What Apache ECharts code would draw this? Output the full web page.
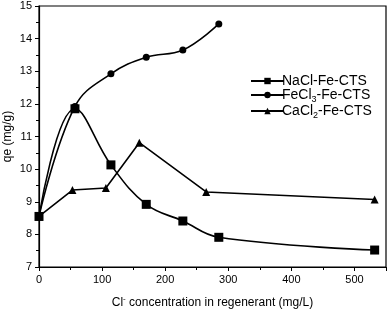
<!DOCTYPE html>
<html><head><meta charset="utf-8">
<script src="https://cdn.jsdelivr.net/npm/echarts@6/dist/echarts.min.js"></script>
<style>html,body{margin:0;padding:0;background:#fff}#c{width:392px;height:310px}</style>
</head><body><div id="c"></div>
<script>
const naclX = [0, 57, 114, 170, 228, 285, 532];
const naclY = [8.55, 11.85, 10.13, 8.92, 8.41, 7.91, 7.52];
const fecl3X = [0, 57, 114, 170, 228, 285];
const fecl3Y = [8.55, 11.92, 12.92, 13.43, 13.65, 14.45];
const cacl2X = [0, 53, 106, 159, 265, 532];
const cacl2Y = [8.55, 9.36, 9.42, 10.81, 9.3, 9.07];
const seriesNames = ['NaCl-Fe-CTS', 'FeCl3-Fe-CTS', 'CaCl2-Fe-CTS'];
const legendLabels = ['NaCl-Fe-CTS', 'FeCl{sub|3}-Fe-CTS', 'CaCl{sub|2}-Fe-CTS'];

const zip = (xs, ys) => xs.map((x, i) => [x, ys[i]]);
const font = 'Liberation Sans, Arial, sans-serif';
const chart = echarts.init(document.getElementById('c'));
chart.setOption({
  animation: false,
  grid: { left: 39, right: 6, top: 6, bottom: 43, outerBoundsMode: 'none', containLabel: false,
    show: true, borderColor: '#000', borderWidth: 1.2, backgroundColor: 'transparent' },
  legend: {
    orient: 'vertical', left: 245, top: 69, itemWidth: 33, itemHeight: 8, itemGap: 0,
    data: seriesNames,
    formatter: n => legendLabels[seriesNames.indexOf(n)],
    textStyle: { fontFamily: font, fontSize: 14, color: '#000', padding: [0, 0, 0, -7],
      rich: { sub: { fontSize: 9, verticalAlign: 'bottom', padding: [9, 0, 0, 0], fontFamily: font, color: '#000' } } }
  },
  xAxis: {
    type: 'value', min: 0, max: 550, interval: 100,
    name: 'Cl{sup|-} concentration in regenerant (mg/L)', nameLocation: 'middle', nameGap: 28, nameMoveOverlap: false,
    nameTextStyle: { fontFamily: font, fontSize: 12, color: '#000',
      rich: { sup: { fontSize: 8, verticalAlign: 'top', padding: [0, 0, 8, 0], fontFamily: font, color: '#000' } } },
    axisLine: { lineStyle: { color: '#000', width: 1.2 } },
    axisTick: { show: true, inside: false, length: 4, lineStyle: { color: '#000' } },
    minorTick: { show: true, splitNumber: 2, length: 3, lineStyle: { color: '#000' } },
    splitLine: { show: false },
    axisLabel: { fontFamily: font, fontSize: 11, color: '#000', margin: 7, showMaxLabel: false }
  },
  yAxis: {
    type: 'value', min: 7, max: 15, interval: 1,
    name: 'qe (mg/g)', nameLocation: 'middle', nameGap: 25, nameMoveOverlap: false,
    nameTextStyle: { fontFamily: font, fontSize: 12, color: '#000' },
    axisLine: { lineStyle: { color: '#000', width: 1.2 } },
    axisTick: { show: true, inside: false, length: 4, lineStyle: { color: '#000' } },
    minorTick: { show: true, splitNumber: 2, length: 3, lineStyle: { color: '#000' } },
    splitLine: { show: false },
    axisLabel: { fontFamily: font, fontSize: 11, color: '#000', margin: 7 }
  },
  series: [
    { name: seriesNames[0], type: 'line', smooth: 0.4, data: zip(naclX, naclY), symbol: 'rect', symbolSize: 9,
      lineStyle: { color: '#000', width: 1.6 }, itemStyle: { color: '#000' } },
    { name: seriesNames[1], type: 'line', smooth: 0.4, data: zip(fecl3X, fecl3Y), symbol: 'circle', symbolSize: 7,
      lineStyle: { color: '#000', width: 1.6 }, itemStyle: { color: '#000' } },
    { name: seriesNames[2], type: 'line', smooth: false, data: zip(cacl2X, cacl2Y), symbol: 'triangle', symbolSize: 8,
      lineStyle: { color: '#000', width: 1.6 }, itemStyle: { color: '#000' } }
  ]
});
</script></body></html>
